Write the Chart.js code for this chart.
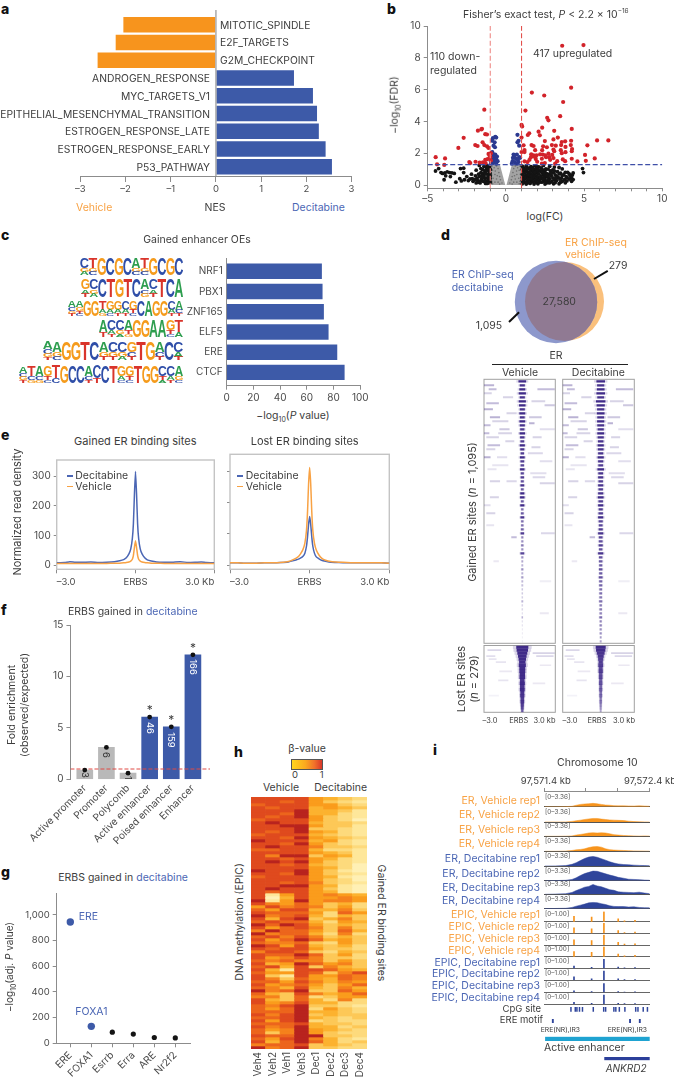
<!DOCTYPE html>
<html><head><meta charset="utf-8">
<style>html,body{margin:0;padding:0;background:#fff}#root{position:relative;width:674px;height:1084px;overflow:hidden;background:#fff}
canvas{position:absolute}.t{position:absolute;white-space:nowrap;line-height:1}</style>
<script src="https://cdn.jsdelivr.net/npm/chart.js@4/dist/chart.umd.min.js"></script></head>
<body><div id="root"></div>
<script>
/* ---------- data ---------- */
const nesLabels=["MITOTIC_SPINDLE","E2F_TARGETS","G2M_CHECKPOINT","ANDROGEN_RESPONSE","MYC_TARGETS_V1","EPITHELIAL_MESENCHYMAL_TRANSITION","ESTROGEN_RESPONSE_LATE","ESTROGEN_RESPONSE_EARLY","P53_PATHWAY"];
const nesValues=[-2.04,-2.21,-2.61,1.72,2.14,2.23,2.27,2.42,2.56];
const nesTicks=[-3,-2,-1,0,1,2,3];

const redUp=[[3.6,8.76],[4.96,8.8],[1.66,5.82],[2.45,5.64],[4.17,6.13],[3.66,5.23],[1.25,4.69],[2.64,4.24],[2.72,4.08],[3.47,4.34],[1,3.79],[1.04,3.7],[4.21,3.54],[3.09,3.42],[2.32,3.62],[2.09,3.37],[1.49,3.27],[1.4,3.16],[2.17,3.14],[1,3],[3.04,2.88],[3.32,3],[3.57,2.72],[4.17,2.8],[3.79,2.76],[5.83,2.82],[6.55,2.82],[5.21,2.51],[2.49,2.78],[1.13,2.51],[1.64,2.53],[1.77,2.47],[2.38,2.45],[2.94,2.53],[3.19,2.49],[3.53,2.53],[4.15,2.53],[4.23,2.28],[3.81,2.41],[3.51,2.21],[3.04,2.25],[2.62,2.39],[2.32,2.21],[1.19,2.22],[1.87,2.21],[1.62,1.95],[1.77,1.89],[1.96,1.89],[2.19,1.95],[2.36,1.93],[2.51,1.89],[2.72,1.99],[3.09,2.14],[2.96,1.91],[2.77,1.77],[3.57,2.02],[3.81,2.08],[4.21,2.14],[5.06,1.91],[5.68,1.69],[5.11,1.54],[4.21,1.67],[3.64,1.63],[3.04,1.71],[2.57,1.77],[1.6,1.77],[1.87,1.77],[1.91,1.65],[2.3,1.67],[2.83,1.6],[1,2.09],[1.19,1.51],[1.38,1.46],[1.51,1.6],[2,1.48],[2.3,1.36],[2.49,1.4],[3.28,1.52],[3.79,1.52],[4.57,1.5],[3.15,1.36],[1.19,2.09]];
const redDown=[[-4.49,1.77],[-3.89,1.69],[-4.4,1.32],[-3.94,1.28],[-3.04,2.35],[-2.7,2.98],[-1.79,3.43],[-1.53,3.55],[-1.57,3.51],[-1.32,3.21],[-1.21,3.19],[-1.96,2.53],[-1.81,2.47],[-1.49,2.7],[-1.38,2.53],[-1.21,2.45],[-1.11,2.35],[-0.96,2.02],[-1.11,1.97],[-1.04,1.86],[-1.17,1.65],[-1.32,1.6],[-2.34,1.46],[-2.28,1.4],[-1.94,1.48],[-1.68,1.42],[-1.47,1.44],[-1.3,1.4],[-1,1.77],[-0.96,1.56],[-1.38,4.75]];
const blueNS=[[-0.68,3.04],[-0.83,2.96],[-0.62,3],[-0.89,2.8],[-0.72,2.7],[-0.79,2.49],[-0.7,2.39],[-0.87,2.08],[-0.79,1.93],[-0.68,1.93],[-0.57,1.81],[-0.74,1.77],[-0.89,1.73],[-0.62,1.65],[-0.79,1.6],[-0.96,1.52],[-0.53,1.52],[-0.7,1.46],[-0.83,1.4],[-0.62,1.36],[-0.96,1.36],[0.74,3.17],[0.81,2.8],[0.74,2.7],[0.85,2.49],[0.49,1.93],[0.7,1.93],[0.53,1.85],[0.85,1.77],[0.45,1.73],[0.64,1.67],[0.77,1.6],[0.43,1.52],[0.57,1.46],[0.81,1.46],[0.38,1.36],[0.7,1.36],[0.91,1.73]];
const blackLeft=[[-4.5,.9],[-4.3,1.05],[-4.15,.8],[-4.05,.75],[-3.9,.78],[-3.75,.85],[-3.6,.8],[-3.45,.78],[-3.3,.75],[-3.55,.55],[-3.85,.6],[-3.95,.35],[-3.2,.2],[-2.95,.42],[-2.85,.28],[-2.9,1.05],[-2.7,1.08],[-2.7,.8],[-2.65,.35],[-2.4,.3],[-2.3,.4],[-2.15,.42],[-2.1,.25],[-1.95,.6],[-1.9,.15],[-1.85,.45],[-1.8,.3],[-1.75,.7],[-1.7,.55],[-1.65,.15],[-1.6,1.05],[-1.55,.4],[-1.5,.75],[-1.45,.25],[-1.4,.6],[-1.35,.9],[-1.3,.12],[-1.3,.45],[-1.25,1.1],[-1.2,.7],[-1.15,.3],[-1.15,.95],[-1.1,.55],[-1.1,.15],[-1.05,.8],[-1.05,1.15],[-1.05,.35],[-1.25,.2],[-1.4,1.2],[-1.6,.8],[-1.9,.95],[-2.2,.7],[-2.5,.55],[-1.7,1.25],[-1.2,1.25],[-1,.6],[-1,.2],[-1,1],[-1.5,1],[-1.3,.75],[-1.15,.5],[-1.45,.5],[-1.6,.3],[-1.75,.2],[-2,.35],[-1.25,.95],[-1.1,1.05],[-1.02,.45],[-1.02,.75],[-1.35,.3],[-1.2,.12],[-1.55,.6]];
const blackRight=[[1.05,1.2],[1.3,1.24],[1.6,1.18],[1.85,1.22],[2.1,1.16],[2.4,1.25],[2.8,1.2],[3.1,1.15],[1.15,1.1],[1.45,1.06],[1.7,1.12],[1.95,1.07],[2.25,1.1],[2.55,1.04],[3.4,1.12],[1.05,1],[1.25,.96],[1.55,1.02],[1.8,.98],[2.05,1],[2.35,.95],[2.7,1.02],[3,.97],[3.6,1.03],[1.1,.9],[1.35,.87],[1.65,.92],[1.9,.86],[2.15,.9],[2.45,.84],[2.85,.9],[3.3,.86],[3.8,.82],[4.9,1.05],[4.96,.8],[1.2,.8],[1.45,.76],[1.75,.82],[2,.77],[2.3,.8],[2.6,.74],[3.05,.8],[3.5,.76],[3.95,.82],[4.3,.78],[1.05,.7],[1.3,.66],[1.6,.72],[1.85,.67],[2.1,.7],[2.4,.65],[2.75,.7],[3.15,.66],[3.4,.72],[3.7,.67],[4.05,.72],[4.25,.65],[1.15,.6],[1.4,.56],[1.7,.62],[1.95,.57],[2.25,.6],[2.5,.55],[2.9,.62],[3.25,.57],[3.6,.6],[3.85,.55],[4.1,.6],[1.05,.5],[1.3,.46],[1.55,.52],[1.8,.47],[2.05,.5],[2.35,.45],[2.65,.52],[3,.47],[3.35,.5],[3.55,.45],[3.9,.5],[4.2,.46],[1.2,.4],[1.45,.36],[1.7,.42],[1.95,.37],[2.2,.4],[2.5,.35],[2.8,.42],[3.1,.37],[3.45,.4],[3.75,.35],[4.05,.4],[4.3,.36],[1.05,.3],[1.35,.26],[1.6,.32],[1.85,.27],[2.1,.3],[2.4,.25],[2.7,.32],[2.95,.27],[3.25,.3],[3.6,.25],[3.9,.28],[4.2,.25],[1.15,.2],[1.4,.16],[1.7,.22],[1.95,.17],[2.3,.2],[2.6,.15],[2.85,.2],[3.15,.17],[3.5,.2],[3.8,.16],[1.05,.1],[1.3,.08],[1.55,.12],[1.8,.08],[2.05,.1],[2.5,.08],[3.05,.1],[3.4,.1],[1.18,1.0],[1.52,.84],[1.22,.5],[1.5,.65],[1.75,.55],[2.0,.9],[2.2,.5],[2.45,.72],[2.7,.55],[1.12,.35],[1.42,.22],[1.62,.42],[1.9,.3],[2.15,.2],[2.4,.4],[2.6,.62],[2.55,.25],[2.88,.75],[3.2,.48],[3.1,.9],[1.28,.15],[1.72,.98],[1.98,1.18],[2.3,1.02],[1.08,.62],[1.35,1.12],[1.62,.6],[1.85,.82],[2.52,.95],[2.78,.15]];
const grayWedgeLeft=[[-1,1.3],[-0.38,1.3],[-0.04,0.02],[-1,0.02]];
const grayWedgeRight=[[0.38,1.3],[1,1.3],[1,0.02],[0.04,0.02]];
const graySpecks=[[-.9,1.2],[-.75,1.1],[-.6,1.22],[-.5,1.05],[-.85,.95],[-.68,.9],[-.45,.8],[-.92,.7],[-.7,.68],[-.55,.6],[-.4,.55],[-.82,.45],[-.6,.4],[-.35,.35],[-.9,.25],[-.7,.2],[-.5,.2],[-.25,.15],[-.85,.1],[-.4,.08],[.9,1.2],[.75,1.1],[.6,1.22],[.5,1.05],[.85,.95],[.68,.9],[.45,.8],[.92,.7],[.7,.68],[.55,.6],[.4,.55],[.82,.45],[.6,.4],[.35,.35],[.9,.25],[.7,.2],[.5,.2],[.25,.15],[.85,.1],[.4,.08]];

const motifNames=["NRF1","PBX1","ZNF165","ELF5","ERE","CTCF"];
const motifValues=[71,71.5,72.5,76,82.5,88];
const motifTicks=[0,20,40,60,80,100];
const logos=[
 ["CGA","TGC","G","C","G","C","AGC","TGC","G","C","G","C"],
 ["GAT","CGA","C","T","G","T","C","ACG","CAT","T","C","A"],
 ["ACGT","AGTC","G","G","TAG","GAC","GAT","CAT","GTC","C","A","G","G","CAT","ACT"],
 ["AT","CAT","CGA","ATG","G","G","A","A","GTC","TA"],
 ["ACGT","AGC","G","G","T","C","AGT","CGT","CGA","GCT","T","G","ACT","C","CAT"],
 ["ACGT","TCG","ACG","GTC","TC","G","C","C","ACT","CT","C","T","GAC","GTC","T","G","G","CTA","CAT","AGC"]];

const profileX=[-3,-2.7,-2.5,-2.3,-2,-1.7,-1.4,-1.1,-.8,-.6,-.45,-.35,-.25,-.18,-.12,-.08,-.04,0,.04,.08,.12,.18,.25,.35,.45,.6,.8,1.1,1.4,1.7,2,2.3,2.5,2.7,3];
const gainedDec=[8,9,12,10,10,11,9,10,12,15,19,25,38,55,90,140,240,315,240,140,90,55,38,25,18,14,11,10,10,12,9,10,11,9,8];
const gainedVeh=[6,6,6,6,6,6,6,6,7,7,8,9,11,14,20,33,60,82,60,33,20,14,11,9,8,7,7,6,6,6,6,6,6,6,6];
const lostDec=[7,7,6,6,6,7,7,8,10,14,18,22,28,38,60,90,130,155,130,90,60,38,26,20,15,12,9,8,7,7,7,7,7,7,6];
const lostVeh=[7,7,6,6,6,7,7,8,11,18,25,35,50,70,110,170,260,312,260,170,110,70,48,32,22,15,11,9,8,7,7,7,7,7,6];
const densityTicks=[0,100,200,300];

const enrichLabels=["Active promoter","Promoter","Polycomb","Active enhancer","Poised enhancer","Enhancer"];
const enrichValues=[0.9,3.1,0.6,6.05,5.1,12.1];
const enrichCounts=["3","6","1","46","159","166"];
const enrichTicks=[0,5,10,15];

const tfLabels=["ERE","FOXA1","Esrrb","Erra","ARE","Nr2f2"];
const tfValues=[945,132,87,72,45,42];
const tfTicks=[0,200,400,600,800,1000];

const vennSets=[{x:46,y:47,r:41.2},{x:54.5,y:46.5,r:39.5}];
const vehGainW=[.45,.3,.35,.42,.3,.42,.38,.3,.35,.28,.34,.3,.25,.32,.26,.22,.3,.24,.2,.28,.22,.2,.26,.18,.2,.17,.22,.16,.24,.26,.16,.24,.14,.16,.22,.14,.14,.16,.2,.12,.12,.14,.12,.22,.12,.1,.1,.12,.1,.12,.1,.1,.08,.08,.08,.1,.08,.08,.06,.08,.06,.06,.05,.05,.05,.05];
const vehGainA=[.95,.9,.95,.95,.9,.95,.95,.9,.95,.9,.95,.9,.85,.95,.9,.85,.95,.9,.85,.95,.85,.8,.95,.8,.85,.75,.9,.7,.95,.95,.7,.95,.6,.7,.9,.6,.6,.65,.85,.5,.45,.55,.45,.8,.45,.35,.3,.45,.3,.4,.28,.25,.22,.2,.18,.3,.16,.15,.13,.3,.12,.12,.1,.1,.08,.06];
const decGainW=[.5,.42,.45,.5,.4,.55,.48,.42,.45,.4,.42,.4,.36,.4,.36,.32,.36,.34,.3,.36,.3,.28,.38,.28,.3,.26,.3,.26,.3,.34,.26,.3,.24,.26,.3,.24,.22,.24,.3,.22,.22,.24,.2,.3,.2,.2,.18,.2,.18,.22,.18,.18,.16,.16,.16,.18,.14,.15,.14,.16,.12,.13,.12,.12,.1,.1];
const decGainA=[.95,.9,.95,.95,.9,.95,.95,.9,.95,.9,.95,.9,.9,.95,.9,.9,.95,.9,.9,.95,.9,.85,.95,.9,.9,.85,.9,.85,.9,.95,.85,.95,.85,.85,.95,.8,.8,.85,.9,.8,.75,.85,.75,.9,.75,.7,.7,.75,.7,.75,.65,.65,.6,.6,.55,.6,.55,.55,.5,.6,.5,.5,.45,.45,.4,.35];
const gainedStreaks=[[1,-3.2,-2.4,.35],[2,-2.8,-2.2,.3],[2,1.3,2.7,.3],[3,-3.2,-2.6,.2],[4,-1.6,-.8,.2],[5,.8,1.9,.2],[5.5,-3,-2,.3],[6,1.9,2.7,.25],[7,-3.2,-2.5,.35],[8,-1.3,-.5,.2],[9,-2.7,-1.9,.35],[9,.6,1.6,.25],[10,-2.5,-1.2,.2],[10.5,.6,1,.35],[11,-3.2,-2.7,.3],[12,-1.9,-1.1,.25],[12,1.5,2.7,.15],[13,-3.2,-2.8,.3],[13,-2,-.9,.2],[14,-3,-2,.2],[14,.9,1.6,.2],[15,-1.4,-.7,.2],[16,-2.9,-1.9,.3],[16.5,.8,1.5,.2],[17,-3,-2.3,.2],[18,.5,1.7,.18],[19,-3.2,-2.7,.35],[19,-2.1,-1.3,.15],[20,1.5,2.5,.15],[21,-2.5,-1.2,.12],[22,-2.9,-2.2,.12],[23,.7,2,.15],[24,.9,1.9,.18],[25,-2.7,-1.9,.2],[25,-1.3,-.5,.18],[25.5,1.5,2.7,.2],[29,-2.7,-2,.2],[31,-3.2,-2.7,.15],[33,-3,-2.3,.2],[36,-3,-2.4,.12],[38,1.6,2.7,.18],[39,-.9,-.5,.3],[45,-2.4,-2,.1],[50,1.5,2.4,.08],[58,1.5,2.2,.1]];
const lostVehW=[.85,.8,.7,.6,.52,.45,.5,.42,.42,.38,.4,.32,.36,.32,.34,.28,.3,.25,.26,.22,.2,.16];
const lostVehA=[.95,.95,.95,.95,.95,.95,.95,.95,.95,.95,.95,.9,.95,.9,.95,.9,.9,.85,.9,.85,.8,.7];
const lostDecW=[.7,.65,.55,.42,.36,.3,.34,.28,.3,.25,.26,.22,.24,.2,.22,.18,.2,.16,.17,.15,.14,.12];
const lostDecA=[.95,.95,.9,.9,.85,.85,.85,.8,.85,.75,.8,.7,.75,.65,.7,.6,.65,.55,.6,.5,.45,.35];
const lostStreaks=[[1,-2.9,-1.8,.18],[2,.9,2.7,.2],[3,-3,-2.3,.15],[3,1.2,2.6,.18],[4,-2.8,-2.2,.12],[5,-2.2,-1.4,.12],[6,1.5,2.4,.1],[8,-1.9,-.9,.1],[11,-2,-1.2,.12],[12,.9,1.9,.1],[16,-2.8,-2,.06]];

const methSamples=["Veh4","Veh2","Veh1","Veh3","Dec1","Dec2","Dec3","Dec4"];
const methRows=[
"88885432","88785321","78885532","87884543","88894431","88794421","87895321","78885320",
"89884332","88995331","88893321","87895421","78884321","88795432","98884521","88795321",
"89886332","77884221","88885431","86993541","88785421","89895321","88784320","88885420",
"98895310","88795321","78885410","88885320","88786321","88995410","89885310","87885410",
"81585654","80485565","91595665",
"86575342","58676352","75884463","87775275","96784243","84893463","78774254","97985343","85786363","69775374",
"96774262","78686343","85797453","76673253","98584342","87885332","68873243","87797352","85686332","76766353",
"84597563","78483643","84188754","75587368","83185576","86375476","77586465","85675357","76484364","96793375",
"74386457","66372355","84374262",
"85684422","76893321","75792532","77794432","86893433","77894323","85892322","77784332","86794423","75695432",
"73695322","87799332","75896421","84797423","67783432","96793322"];
const methPalette=["#FFF0B5","#FEE79A","#FDDA7C","#FDC857","#FCB22F","#FA9C1C","#F5811C","#EC651C","#DF4A1E","#B8231E"];

const trackX=[0,.1,.2,.26,.3,.34,.38,.42,.46,.5,.54,.58,.62,.66,.7,.75,.8,.85,.9,.95,1];
const erVehicleTracks=[
[0,0,.02,.1,.35,.55,.65,.72,.8,.7,.55,.4,.35,.25,.2,.2,.18,.15,.2,.15,.1],
[0,0,.02,.15,.3,.45,.6,.75,.85,.85,.7,.6,.5,.45,.4,.35,.2,.1,.05,.03,0],
[0,0,.03,.1,.3,.45,.6,.8,.85,.8,.85,.8,.6,.4,.3,.2,.15,.1,.05,.1,.05],
[0,0,.05,.2,.35,.45,.6,.9,1.1,1.15,1,.6,.4,.3,.25,.2,.15,.1,.08,.05,.03]];
const erDecitabineTracks=[
[0,.02,.1,.4,.8,1.3,1.8,2.15,2.3,2.1,1.75,1.4,1,.7,.5,.35,.3,.2,.15,.1,.05],
[0,.02,.1,.3,.7,1.25,1.7,2,2.3,2.25,1.95,1.65,1.35,1.1,.8,.6,.35,.3,.25,.15,.1],
[0,.05,.15,.45,.9,1.3,1.7,1.9,2.35,2,1.8,1.45,1.1,.95,.6,.5,.45,.4,.5,.3,.15],
[.02,.05,.1,.3,.6,.85,1.1,1.4,1.5,1.45,1.2,1,.7,.55,.5,.5,.4,.45,.3,.25,.2]];
const epicSites=[.279,.447,.564,.70,.76,.86];
const epicVehicleTracks=[[.5,.45,.95,.28,.08,.14],[.52,.42,.95,.25,.08,.12],[.5,.42,.95,.25,.08,.12],[.48,.42,.95,.25,.08,.14]];
const epicDecitabineTracks=[[.22,.1,.85,.12,.04,.06],[.3,.12,.85,.1,.04,.05],[.15,.06,.82,.06,.03,.04],[.15,.06,.85,.06,.03,.04]];
const trackNames=["Vehicle rep1","Vehicle rep2","Vehicle rep3","Vehicle rep4","Decitabine rep1","Decitabine rep2","Decitabine rep3","Decitabine rep4"];
const cpgSites=[.231,.273,.289,.314,.343,.448,.549,.568,.648,.667,.701,.755,.86,.882,.933,.974];
const ereSites=[.053,.803,.898];
const enhancerSpan=[-.013,1];
const geneSpan=[.562,1];
const genomeTicks=[0,.385,.693,1];

/* ---------- helpers ---------- */
const F='Inter, "Noto Sans", sans-serif';
const BLUE='#3D5AA8',ORANGE='#F7941D',LBLUE='#4B66B4',LORANGE='#F8A244',AX='#8c8c8c',TK='#4a4a4a',INK='#3d3d3d';
const root=document.getElementById('root');
Chart.defaults.font.family=F;Chart.defaults.color=TK;
function T(html,x,y,o={}){const e=document.createElement('div');e.className='t';e.innerHTML=html;
 const a=o.a||'l',tx=a==='l'?'0':a==='c'?'-50%':'-100%';
 e.style.cssText+=`left:${x}px;top:${y}px;font-size:${o.s||10.5}px;color:${o.c||INK};font-family:${o.f||F};font-weight:${o.w||400};transform:translate(${tx},-50%)${o.r?` rotate(${o.r}deg)`:''};`;
 root.appendChild(e);return e;}
function ax(o){const s={type:o.type||'linear',min:o.min,max:o.max,reverse:!!o.reverse,offset:!!o.offset,position:o.position,stacked:!!o.stacked,
 grid:{display:!!o.tick,drawOnChartArea:false,drawTicks:!!o.tick,tickLength:o.tick||0,tickColor:o.lc||AX,tickWidth:1},
 border:{display:o.line!==false,color:o.lc||AX,width:o.lw||1},
 ticks:{display:!!o.fmt,autoSkip:false,maxRotation:o.rot||0,minRotation:o.rot||0,padding:o.pad===undefined?2:o.pad,
  font:{size:o.size||9.5,family:F},color:o.tc||TK,callback:o.fmt||(()=>''),align:o.align||'center'}};
 if(o.vals)s.afterBuildTicks=c=>{c.ticks=o.vals.map(v=>({value:v}));};
 return s;}
function mk(p,m,cfg){const left=Math.floor(p.x0-m[0]),top=Math.floor(p.y0-m[1]),w=Math.ceil(p.x1+m[2])-left,h=Math.ceil(p.y1+m[3])-top;
 const c=document.createElement('canvas');c.width=w;c.height=h;c.style.cssText=`left:${left}px;top:${top}px;width:${w}px;height:${h}px`;root.appendChild(c);
 const o=cfg.options=cfg.options||{};const sc=o.scales;const xTop=sc.x.position==='top';
 sc.y.afterFit=s=>{s.width=p.x0-left;};
 sc.x.afterFit=s=>{s.height=xTop?p.y0-top:top+h-p.y1;};
 o.responsive=false;o.animation=false;o.maintainAspectRatio=false;o.devicePixelRatio=1;
 o.plugins=Object.assign({legend:{display:false},tooltip:{enabled:false}},o.plugins||{});
 o.layout={autoPadding:false,padding:{left:0,top:xTop?0:p.y0-top,right:left+w-p.x1,bottom:xTop?top+h-p.y1:0}};
 return new Chart(c,cfg);}
const frame=(color,lw)=>({id:'frame',beforeDatasetsDraw(ch){const a=ch.chartArea,x=ch.ctx;x.save();x.strokeStyle=color;x.lineWidth=lw;x.strokeRect(a.left,a.top,a.right-a.left,a.bottom-a.top);x.restore();}});
const minus=v=>String(v).replace('-','\u2013');
const px=(ch,axis,v)=>ch.scales[axis].getPixelForValue(v);
const cx=(ch,v)=>ch.canvas.offsetLeft+px(ch,'x',v),cy=(ch,v)=>ch.canvas.offsetTop+px(ch,'y',v);

/* panel letters */
[["a",1,9],["b",387,9],["c",1,235],["d",441,235],["e",1,435],["f",1,610],["g",1,872],["h",234,752],["i",433,750]].forEach(l=>T(l[0],l[1],l[2],{s:14,w:800,c:'#111'}));

/* ---------- a ---------- */
{const ch=mk({x0:78.3,x1:351.5,y0:10,y1:176},[4,2,8,20],{type:'bar',data:{datasets:[
  {type:'scatter',showLine:true,data:[{x:0,y:-.83},{x:0,y:8.52}],borderColor:'#b5b5b5',borderWidth:1,pointRadius:0},
  {data:nesValues.map((v,i)=>({x:v,y:i})),backgroundColor:nesValues.map(v=>v<0?ORANGE:BLUE),barThickness:14.7,borderWidth:0}]},
  options:{indexAxis:'y',scales:{x:ax({min:-3,max:3,vals:nesTicks,tick:6,fmt:minus,pad:1,size:9.5}),y:ax({min:-.83,max:8.52,reverse:true,line:false})}}});
 nesLabels.forEach((n,i)=>{const y=cy(ch,i);nesValues[i]<0?T(n,220,y,{s:10.3}):T(n,210,y,{s:10.3,a:'r'});});
 T('Vehicle',76,208,{c:LORANGE});T('NES',215,208,{a:'c'});T('Decitabine',292,208,{c:LBLUE});
}
/* ---------- b ---------- */
{const pt=(a,c,r)=>({data:a.map(d=>({x:d[0],y:d[1]})),backgroundColor:c,pointRadius:r,pointBorderWidth:0,showLine:false});
 const poly=a=>({data:a.map(d=>({x:d[0],y:d[1]})),showLine:true,fill:'shape',backgroundColor:'#a3a3a3',borderWidth:0,pointRadius:0,tension:0});
 const ln=(a,c)=>({data:a,showLine:true,borderColor:c,borderWidth:1.1,borderDash:[5,2.5],pointRadius:0,tension:0});
 mk({x0:427.7,x1:662.3,y0:23.3,y1:188.3},[32,6,10,18],{type:'scatter',data:{datasets:[
  ln([{x:-5,y:1.3},{x:10,y:1.3}],'#3f4fa8'),ln([{x:-1,y:-.18},{x:-1,y:10}],'#ee8a86'),ln([{x:1,y:-.18},{x:1,y:10}],'#e2504c'),
  pt(redUp,'#D2232A',2.1),pt(redDown,'#D2232A',2.1),pt(blueNS,'#2B3990',2.1),pt(blackRight,'#141414',1.9),pt(blackLeft,'#141414',1.9),pt(graySpecks,'#6e6e6e',.8),poly(grayWedgeLeft),poly(grayWedgeRight)]},
  options:{scales:{x:ax({min:-5,max:10,vals:[-5,-4,-3,-2,-1,0,1,2,3,4,5,6,7,8,9,10],tick:3,fmt:v=>v%5===0?minus(v):'',pad:2,size:10}),
   y:ax({min:-.185,max:10,vals:[0,2,4,6,8,10],tick:4,fmt:v=>String(v),pad:3,size:10})}}});
 T('Fisher\u2019s exact test, <i>P</i> &lt; 2.2 × 10<sup style="font-size:6.5px;line-height:0">\u221216</sup>',463,15,{s:10.5});
 T('110 down-',430,57);T('regulated',430,71);T('417 upregulated',533,54);
 T('\u2212log<sub style="font-size:7px;line-height:0">10</sub>(FDR)',395,105,{a:'c',r:-90});
 T('log(FC)',545,217,{a:'c'});
}
/* ---------- c ---------- */
{const colors={A:'#2E9E4F',C:'#2F4EA8',G:'#F59B1C',T:'#D9342B'};
 const boxes=[[80,183.3,257.7,275],[81,183,279,296.7],[68,183,300.7,316],[99,183,320,336.7],[43,183,341.7,360],[19,183,365.7,382.7]];
 const split={1:[1],2:[.72,.28],3:[.58,.24,.18],4:[.4,.25,.2,.15]};
 const logoPlugin={id:'logo',afterDraw(ch){const g=ch.ctx,ot=ch.canvas.offsetTop,ol=ch.canvas.offsetLeft;g.save();g.textBaseline='alphabetic';g.font='bold 40px "Liberation Sans"';
  logos.forEach((cols,i)=>{const b=boxes[i],w=(b[1]-b[0])/cols.length,H=b[3]-b[2];
   cols.forEach((col,j)=>{let y=b[2]-ot;const fr=split[col.length];
    [...col].forEach((L,k)=>{const h=H*fr[k],m=g.measureText(L),gw=m.actualBoundingBoxLeft+m.actualBoundingBoxRight,gh=m.actualBoundingBoxAscent+m.actualBoundingBoxDescent;
     g.save();g.translate(b[0]-ol+j*w,y);g.scale(w/gw,h/gh);g.fillStyle=colors[L];g.fillText(L,m.actualBoundingBoxLeft,m.actualBoundingBoxAscent);g.restore();y+=h;});});});
  g.restore();}};
 mk({x0:226.7,x1:360.3,y0:251.7,y1:385.7},[226,3,12,18],{type:'bar',data:{datasets:[{data:motifValues.map((v,i)=>({x:v,y:i})),backgroundColor:BLUE,barThickness:14.8}]},
  options:{indexAxis:'y',scales:{x:ax({min:0,max:100,vals:motifTicks,tick:4,fmt:v=>String(v),size:10,pad:2}),
   y:ax({min:-.66,max:5.66,reverse:true,vals:motifNames.map((_,i)=>i),fmt:(v)=>motifNames[v],size:10,pad:4})}},plugins:[logoPlugin]});
 T('Gained enhancer OEs',197,240,{a:'c'});
 T('\u2212log<sub style="font-size:7px;line-height:0">10</sub>(<i>P</i> value)',293,416,{a:'c'});
}
/* ---------- d venn ---------- */
{const overlap={id:'ov',afterDatasetsDraw(ch){const g=ch.ctx,xs=ch.scales.x,ys=ch.scales.y;const P=s=>[xs.getPixelForValue(s.x),ys.getPixelForValue(s.y),s.r];
  const a=P(vennSets[0]),b=P(vennSets[1]);g.save();g.beginPath();g.arc(a[0],a[1],a[2],0,7);g.clip();g.beginPath();g.arc(b[0],b[1],b[2],0,7);g.fillStyle='#907A93';g.fill();g.restore();}};
 mk({x0:510,x1:610,y0:255,y1:355},[0,0,0,0],{type:'bubble',data:{datasets:[
   {data:[vennSets[0]],backgroundColor:'#8D98CC',borderWidth:0,clip:false},{data:[vennSets[1]],backgroundColor:'#FAC07C',borderWidth:0,clip:false}]},
   options:{scales:{x:ax({min:0,max:100,line:false}),y:ax({min:0,max:100,reverse:true,line:false})}},plugins:[overlap]});
 const bar=(a,b,c,d)=>{const e=document.createElement('div');const L=Math.hypot(c-a,d-b),R=Math.atan2(d-b,c-a);e.style.cssText=`position:absolute;left:${a}px;top:${b-1}px;width:${L}px;height:2px;background:#111;transform-origin:0 50%;transform:rotate(${R}rad)`;root.appendChild(e);};
 bar(594.3,279,607.7,271);bar(509,321.7,519.3,311.7);
 T('ER ChIP-seq',565,242.7,{c:LORANGE});T('vehicle',565,255,{c:LORANGE});
 T('ER ChIP-seq',451.7,275,{c:LBLUE});T('decitabine',451.7,287.7,{c:LBLUE});
 T('279',608.7,266);T('1,095',475.7,326);T('27,580',559.3,302,{a:'c'});
 T('ER',556,356,{a:'c'});T('Vehicle',520,373,{a:'c'});T('Decitabine',598.3,373,{a:'c'});
 const r=document.createElement('div');r.style.cssText='position:absolute;left:491.7px;top:364px;width:136px;height:1px;background:#222';root.appendChild(r);
}
/* ---------- d heatmaps ---------- */
function heat(p,W,A,streaks,sw,center,k){const pxPerKb=(p.x1-p.x0)/6,min=-(center-p.x0)/pxPerKb,max=min+6;const col=a=>`rgba(56,34,132,${a})`;
 const band=(f,al)=>({data:W.map((w,i)=>({x:[-w*k*f,w*k*f],y:i+.5})),backgroundColor:A.map(a=>col(a*al)),grouped:false,barPercentage:1.08,categoryPercentage:1});
 mk(p,[1,1,1,1],{type:'bar',data:{datasets:[
  band(1,1),band(1.55,.2),
  {data:streaks.map(s=>({x:[s[1],s[2]],y:s[0]+.5})),backgroundColor:streaks.map(s=>col(s[3])),maxBarThickness:sw,grouped:false,barPercentage:1,categoryPercentage:1}]},
  options:{indexAxis:'y',scales:{x:ax({min,max,line:false}),y:ax({min:0,max:W.length,reverse:true,line:false})}},plugins:[frame('#a0a0a0',1)]});}
heat({x0:484,x1:555.3,y0:379.3,y1:643.3},vehGainW,vehGainA,gainedStreaks,1.2,522.3,.72);
heat({x0:562.7,x1:634.3,y0:379.3,y1:643.3},decGainW,decGainA,gainedStreaks,1.2,600.7,.72);
heat({x0:484,x1:555.3,y0:645.5,y1:712.3},lostVehW,lostVehA,lostStreaks,1,522.3,.6);
heat({x0:562.7,x1:634.3,y0:645.5,y1:712.3},lostDecW,lostDecA,lostStreaks,1,600.7,.6);
[[490,518.7,544.5],[570,597,624]].forEach(a=>{T('\u20133.0',a[0],721,{s:7.5,a:'c'});T('ERBS',a[1],721,{s:7.5,a:'c'});T('3.0 kb',a[2],721,{s:7.5,a:'c'});});
T('Gained ER sites (<i>n</i> = 1,095)',472,512,{a:'c',r:-90,s:11});
T('Lost ER sites',461,679,{a:'c',r:-90,s:11});T('(<i>n</i> = 279)',474,679,{a:'c',r:-90,s:11});

/* ---------- e ---------- */
function density(p,dec,veh,labels){const d=a=>a.map((v,i)=>({x:profileX[i],y:v}));
 const ds=(a,c)=>({data:d(a),borderColor:c,borderWidth:1.5,pointRadius:0,showLine:true,tension:.15});
 mk(p,[38,3,10,22],{type:'scatter',data:{datasets:[ds(veh,LORANGE),ds(dec,LBLUE)]},options:{scales:{
   x:ax({min:-3,max:3,vals:[-3,0,3],tick:4,fmt:v=>v===0?'ERBS':v<0?'\u20133.0':'3.0 Kb',size:9.5,pad:3,align:'inner',lc:'#8c8c8c'}),
   y:ax({min:-13.7,max:354,vals:densityTicks,tick:3,fmt:labels?(v=>String(v)):null,size:10,pad:3,line:false})}},plugins:[frame('#c4c4c4',1.4)]});}
density({x0:56.7,x1:214.3,y0:454.3,y1:569.3},gainedDec,gainedVeh,true);
density({x0:230,x1:389.3,y0:454.3,y1:569.3},lostDec,lostVeh,false);
T('Gained ER binding sites',135.3,441,{a:'c',s:11});T('Lost ER binding sites',304.7,441,{a:'c',s:11});
T('Normalized read density',17,512,{a:'c',r:-90,s:11});
[[67.3,75.3],[237,245.7]].forEach(a=>{
 [['Decitabine',476,LBLUE],['Vehicle',486.7,LORANGE]].forEach(r=>{T(r[0],a[1],r[1],{});const s=document.createElement('div');s.style.cssText=`position:absolute;left:${a[0]}px;top:${r[1]-.8}px;width:5.5px;height:1.6px;background:${r[2]}`;root.appendChild(s);});});

/* ---------- f ---------- */
{const ch=mk({x0:57.3,x1:210,y0:621.7,y1:779.3},[32,5,2,70],{type:'bar',data:{datasets:[
  {type:'scatter',data:enrichValues.map((v,i)=>({x:i,y:v})),backgroundColor:'#111',pointRadius:2.4,pointBorderWidth:0},
  {type:'scatter',showLine:true,data:[{x:-.663,y:1},{x:5.79,y:1}],borderColor:'#e04a44',borderWidth:1,borderDash:[4,2],pointRadius:0},
  {data:enrichValues.map((v,i)=>({x:i,y:v})),backgroundColor:enrichValues.map((v,i)=>i<3?'#b9b9b9':BLUE),barThickness:16}]},
  options:{scales:{x:ax({min:-.663,max:5.79,vals:enrichLabels.map((_,i)=>i),fmt:v=>enrichLabels[v],rot:45,size:10,pad:3,line:false}),
   y:ax({min:0,max:15,vals:enrichTicks,tick:4,fmt:v=>String(v),size:10,pad:3})}}});
 const offs=[5,7.7,5,11,13,12];
 enrichCounts.forEach((c,i)=>{T(c,cx(ch,i),cy(ch,enrichValues[i])+offs[i],{a:'c',s:9.5,r:90,c:i<3?'#333':'#fff'});});
 [3,4,5].forEach(i=>T('*',cx(ch,i),cy(ch,enrichValues[i])-7,{a:'c',s:12}));
 T('ERBS gained in <span style="color:'+LBLUE+'">decitabine</span>',68,611.7);
 T('Fold enrichment',12,705,{a:'c',r:-90});T('(observed/expected)',25,705,{a:'c',r:-90});
}
/* ---------- g ---------- */
{const ch=mk({x0:56.7,x1:190,y0:888.3,y1:1043.3},[38,3,8,40],{type:'scatter',data:{datasets:[
  {data:tfValues.map((v,i)=>({x:i,y:v})),backgroundColor:tfValues.map((v,i)=>i<2?BLUE:'#141414'),pointRadius:tfValues.map((v,i)=>i<2?3.7:2.6),pointBorderWidth:0}]},
  options:{scales:{x:ax({min:-.648,max:5.7,vals:tfLabels.map((_,i)=>i),tick:4,fmt:v=>tfLabels[v],rot:45,size:10,pad:2}),
   y:ax({min:0,max:1165,vals:tfTicks,tick:4,fmt:v=>v.toLocaleString('en-US'),size:9.5,pad:3})}}});
 T('ERE',78.7,917,{c:LBLUE});T('FOXA1',75.3,1011.7,{c:LBLUE});
 T('ERBS gained in <span style="color:'+LBLUE+'">decitabine</span>',58.3,877.7);
 T('\u2212log<sub style="font-size:7px;line-height:0">10</sub>(adj. <i>P</i> value)',8.5,966.7,{a:'c',r:-90,s:10});
}
/* ---------- h ---------- */
{mk({x0:251,x1:371,y0:797,y1:797+3*methRows.length},[4,2,4,34],{type:'bar',data:{labels:methSamples,datasets:methRows.map(r=>({data:[...r].map(()=>1),backgroundColor:[...r].map(d=>methPalette[+d]),barPercentage:1,categoryPercentage:1,borderWidth:0,stack:'m'}))},
  options:{scales:{x:ax({type:'category',offset:true,stacked:true,fmt:function(v){return methSamples[v];},rot:90,size:10,pad:3,line:false}),
   y:ax({min:0,max:methRows.length,reverse:true,stacked:true,line:false})}}});
 T('\u03b2-value',307,748.5,{a:'c'});
 const b=document.createElement('div');b.style.cssText='position:absolute;left:291px;top:759px;width:30px;height:8.5px;border:1px solid #555;background:linear-gradient(90deg,#FFD51E,#FBA81F 45%,#F0702A 75%,#D9362A)';root.appendChild(b);
 T('0',295,775,{a:'c',s:9.5});T('1',321.7,775,{a:'c',s:9.5});
 T('Vehicle',281,788.3,{a:'c'});T('Decitabine',340.7,788.3,{a:'c'});
 T('DNA methylation (EPIC)',240,922,{a:'c',r:-90});T('Gained ER binding sites',381,922.7,{a:'c',r:90});
}
/* ---------- i ---------- */
{const P={x0:544.7,x1:649.7};
 mk({x0:P.x0,x1:P.x1,y0:791.5,y1:792.5},[2,5,2,0],{type:'scatter',data:{datasets:[]},options:{scales:{x:ax({position:'top',min:0,max:1,vals:genomeTicks,tick:3.5}),y:ax({min:0,max:1,line:false})}}});
 T('Chromosome 10',597.3,763,{a:'c'});T('97,571.4 kb',520.7,780.7,{s:9.5});T('97,572.4 kb',624,780.7,{s:9.5});
 const erBase=[806.7,822,836.3,851.3,866,880.7,894.3,908.7],erLab=[801,815.3,830,844.3,859.3,873.7,887.7,901.3];
 const epBase=[921.7,933.3,945,956.7,968.3,980,992.3,1004],epLab=[915,927,939,950.7,962.7,974.3,986,997.7];
 const isV=i=>i<4;
 [...erVehicleTracks,...erDecitabineTracks].forEach((t,i)=>{const c=isV(i)?'#F7941D':'#2F459B';
  mk({x0:P.x0,x1:P.x1,y0:erBase[i]-14,y1:erBase[i]},[1,0,1,1],{type:'scatter',data:{datasets:[{data:t.map((v,j)=>({x:trackX[j],y:v})),showLine:true,fill:'origin',backgroundColor:c,borderColor:c,borderWidth:.5,pointRadius:0,tension:0}]},
   options:{scales:{x:ax({min:0,max:1,lc:'#555'}),y:ax({min:0,max:3.36,line:false})}}});
  T('ER, '+trackNames[i],540,erLab[i],{a:'r',c:isV(i)?LORANGE:LBLUE});T('[0\u20133.36]',545,erBase[i]-10,{s:6.4,c:'#555'});});
 [...epicVehicleTracks,...epicDecitabineTracks].forEach((t,i)=>{const c=isV(i)?'#F7941D':'#2F459B';
  mk({x0:P.x0,x1:P.x1,y0:epBase[i]-10.5,y1:epBase[i]},[1,0,1,1],{type:'bar',data:{datasets:[{data:t.map((v,j)=>({x:epicSites[j],y:v})),backgroundColor:c,barThickness:1}]},
   options:{scales:{x:ax({min:0,max:1,lc:'#666'}),y:ax({min:0,max:1,line:false})}}});
  T('EPIC, '+trackNames[i],540,epLab[i],{a:'r',c:isV(i)?LORANGE:LBLUE});T('[0\u20131.00]',545,epBase[i]-7.5,{s:6.4,c:'#555'});});
 const strip=(spans,y0,y1,c)=>mk({x0:P.x0,x1:P.x1,y0,y1},[2,0,2,0],{type:'bar',data:{datasets:[{data:spans.map(s=>({x:s,y:0})),backgroundColor:c,barThickness:y1-y0}]},
   options:{indexAxis:'y',scales:{x:ax({min:-.02,max:1,line:false}),y:ax({min:-.5,max:.5,line:false})}}});
 strip(cpgSites.map(s=>[s,s+.008]),1007,1011.7,'#2F459B');
 strip(ereSites.map(s=>[s,s+.012]),1019,1023,'#2F459B');
 strip([enhancerSpan],1036.7,1041,'#1FA3D1');
 strip([geneSpan],1057,1060.3,'#2B3F9A');
 T('CpG site',541,1009,{a:'r',s:9.5});T('ERE motif',543,1019.7,{a:'r',s:9.5});
 T('ERE(NR),IR3',540.7,1030,{s:6.8});T('ERE(NR),IR3',607.7,1030,{s:6.8});
 T('Active enhancer',544,1048,{s:10.5});T('<i>ANKRD2</i>',605.7,1068,{s:10});
}
</script></body></html>
